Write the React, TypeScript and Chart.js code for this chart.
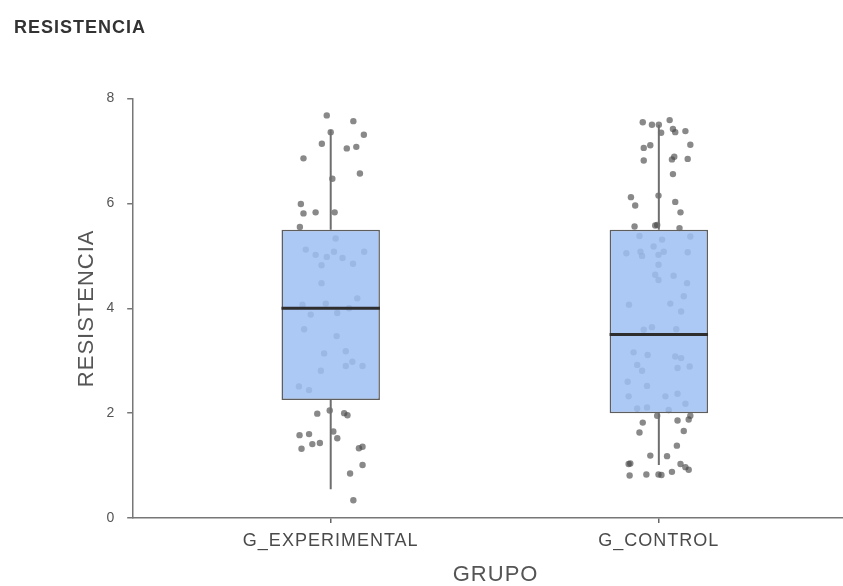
import React, { useEffect, useRef } from 'react';
import { Chart, registerables } from 'chart.js';

Chart.register(...registerables);

// Groups on the horizontal axis
const groups = ['G_EXPERIMENTAL', 'G_CONTROL'];

// Box-plot summaries per group
const whiskerLow = [0.55, 1.01];
const quartile1 = [2.25, 2.0];
const medians = [4.0, 3.5];
const quartile3 = [5.5, 5.5];
const whiskerHigh = [7.4, 7.5];

// Individual observations (value) with their horizontal jitter
const expValues = [
  7.68, 7.57, 7.36, 7.31, 7.14, 7.05, 7.08, 6.86, 6.47, 6.57,
  5.99, 5.81, 5.83, 5.83, 5.55, 5.33, 5.12, 5.02, 4.98, 5.08,
  4.96, 4.82, 4.85, 5.08, 4.48, 4.19, 4.07, 4.09, 3.88, 3.91,
  4.0, 3.6, 3.47, 3.14, 3.18, 2.81, 2.9, 2.98, 2.9, 2.51,
  2.44, 1.99, 2.05, 2.0, 1.96, 1.58, 1.6, 1.65, 1.52, 1.41,
  1.43, 1.32, 1.33, 1.36, 1.01, 0.85, 0.34,
];
const expJitter = [
  -0.012, 0.069, 0.0, 0.101, -0.027, 0.049, 0.078, -0.083, 0.005, 0.089,
  -0.091, -0.083, -0.046, 0.012, -0.094, 0.015, -0.076, -0.046, -0.012, 0.01,
  0.036, -0.028, 0.068, 0.102, -0.028, 0.081, -0.086, -0.015, -0.061, 0.02,
  0.056, -0.081, 0.018, -0.02, 0.046, -0.03, 0.046, 0.066, 0.097, -0.097,
  -0.066, -0.041, -0.003, 0.041, 0.051, -0.095, -0.066, 0.008, 0.02, -0.056,
  -0.033, -0.089, 0.086, 0.097, 0.097, 0.059, 0.069,
];

const ctrlValues = [
  7.55, 7.5, 7.5, 7.59, 7.42, 7.36, 7.35, 7.38, 7.06, 7.11,
  7.12, 6.82, 6.84, 6.89, 6.85, 6.56, 6.12, 5.96, 6.15, 6.03,
  5.83, 5.56, 5.58, 5.59, 5.53, 5.38, 5.31, 5.37, 5.18, 5.05,
  5.08, 5.0, 5.02, 5.08, 5.07, 4.83, 4.64, 4.54, 4.62, 4.48,
  4.23, 4.07, 4.09, 3.94, 3.59, 3.64, 3.6, 3.16, 3.11, 2.92,
  2.81, 3.08, 3.05, 2.86, 2.89, 2.6, 2.52, 2.32, 2.32, 2.37,
  2.09, 2.11, 2.06, 2.18, 1.95, 1.82, 1.86, 1.88, 1.95, 1.63,
  1.66, 1.38, 1.19, 1.18, 1.03, 1.04, 1.03, 0.97, 0.92, 0.81,
  0.83, 0.83, 0.82, 0.88,
];
const ctrlJitter = [
  -0.049, -0.021, 0.0, 0.033, 0.043, 0.05, 0.007, 0.081, -0.046, -0.026,
  0.096, -0.046, 0.04, 0.047, 0.088, 0.043, -0.085, -0.072, -0.001, 0.05,
  0.066, -0.074, -0.011, -0.005, 0.063, -0.059, 0.01, 0.096, -0.016, -0.099,
  -0.056, -0.051, -0.001, 0.015, 0.088, -0.001, -0.011, -0.001, 0.045, 0.086,
  0.076, -0.091, 0.035, 0.068, -0.046, -0.021, 0.053, -0.077, -0.034, -0.066,
  -0.051, 0.05, 0.068, 0.057, 0.094, -0.095, -0.036, -0.092, 0.02, 0.057,
  -0.066, -0.036, 0.03, 0.081, -0.005, -0.049, 0.057, 0.091, 0.096, -0.059,
  0.076, 0.055, -0.026, 0.025, -0.092, -0.087, 0.066, 0.081, 0.091, -0.089,
  -0.038, -0.001, 0.008, 0.04,
];

const BOX_WIDTH_RATIO = 0.3;
const FONT = '"Liberation Sans", Arial, Helvetica, sans-serif';

// The plot runs past the right edge of the frame, which clips it
const FRAME_W = 843;
const FRAME_H = 586;
const CANVAS_W = 862;

const spacingPlugin = {
  id: 'letterSpacing',
  beforeUpdate(chart: any) {
    chart.ctx.letterSpacing = '1px';
  },
  beforeDraw(chart: any) {
    chart.ctx.letterSpacing = '1px';
  },
};

export default function App() {
  const canvasRef = useRef<HTMLCanvasElement | null>(null);

  useEffect(() => {
    const canvas = canvasRef.current;
    if (!canvas) return;

    const points = (values: number[], jitter: number[], g: number) =>
      values.map((v, i) => ({ x: g + jitter[i], y: v }));

    const whiskers: { x: number; y: number | null }[] = [];
    groups.forEach((_, g) => {
      whiskers.push({ x: g, y: whiskerLow[g] }, { x: g, y: quartile1[g] }, { x: g, y: null });
      whiskers.push({ x: g, y: quartile3[g] }, { x: g, y: whiskerHigh[g] }, { x: g, y: null });
    });

    const half = BOX_WIDTH_RATIO / 2;
    const medianLines: { x: number; y: number | null }[] = [];
    groups.forEach((_, g) => {
      medianLines.push({ x: g - half, y: medians[g] }, { x: g + half, y: medians[g] }, { x: g, y: null });
    });

    const chart = new Chart(canvas, {
      type: 'bar',
      data: {
        datasets: [
          {
            type: 'scatter',
            label: 'obs',
            data: [...points(expValues, expJitter, 0), ...points(ctrlValues, ctrlJitter, 1)],
            backgroundColor: 'rgba(70,70,70,0.64)',
            borderWidth: 0,
            pointRadius: 3.2,
            order: 3,
          } as any,
          {
            type: 'bar',
            label: 'box',
            data: groups.map((_, g) => ({ x: g, y: [quartile1[g], quartile3[g]] })),
            backgroundColor: 'rgba(158,192,245,0.86)',
            borderColor: '#5e5e5e',
            borderWidth: 1.5,
            borderSkipped: false,
            barPercentage: BOX_WIDTH_RATIO,
            categoryPercentage: 1,
            order: 2,
          } as any,
          {
            type: 'line',
            label: 'whiskers',
            data: whiskers,
            borderColor: '#6e6e6e',
            borderWidth: 2,
            pointRadius: 0,
            spanGaps: false,
            order: 1,
          } as any,
          {
            type: 'line',
            label: 'median',
            data: medianLines,
            borderColor: '#2e2e2e',
            borderWidth: 3,
            pointRadius: 0,
            spanGaps: false,
            order: 0,
          } as any,
        ],
      },
      options: {
        responsive: false,
        animation: false,
        layout: { padding: { left: 14, right: 0, top: 0, bottom: 0 } },
        plugins: {
          legend: { display: false },
          tooltip: { enabled: false },
          title: {
            display: true,
            text: 'RESISTENCIA',
            align: 'start',
            color: '#333333',
            font: { family: FONT, size: 18, weight: 'bold' },
            padding: { top: 17, bottom: 60 },
          },
        },
        scales: {
          x: {
            type: 'linear',
            offset: false,
            min: -0.602,
            max: 1.607,
            afterBuildTicks: (scale: any) => {
              scale.ticks = groups.map((_, i) => ({ value: i }));
            },
            ticks: {
              autoSkip: false,
              maxRotation: 0,
              padding: 7,
              color: '#4a4a4a',
              font: { family: FONT, size: 18 },
              callback: (v: any) => groups[v as number] ?? '',
            },
            grid: {
              display: true,
              offset: false,
              drawOnChartArea: false,
              drawTicks: true,
              tickLength: 5,
              color: '#666666',
              lineWidth: 1.5,
            },
            border: { display: true, color: '#777777', width: 1.5 },
            title: {
              display: true,
              text: 'GRUPO',
              color: '#555555',
              font: { family: FONT, size: 22 },
              padding: { top: 3, bottom: -2 },
            },
          },
          y: {
            type: 'linear',
            min: 0,
            max: 8,
            ticks: {
              stepSize: 2,
              padding: 12,
              color: '#555555',
              font: { family: FONT, size: 14 },
            },
            grid: {
              display: true,
              drawOnChartArea: false,
              drawTicks: true,
              tickLength: 6,
              color: '#777777',
              lineWidth: 1.5,
            },
            border: { display: true, color: '#777777', width: 1.5 },
            title: {
              display: true,
              text: 'RESISTENCIA',
              color: '#555555',
              font: { family: FONT, size: 22 },
              padding: { top: 60, bottom: -6 },
            },
          },
        },
      },
      plugins: [spacingPlugin],
    } as any);

    return () => chart.destroy();
  }, []);

  return (
    <div
      style={{
        position: 'absolute',
        left: 0,
        top: 0,
        width: FRAME_W,
        height: FRAME_H,
        overflow: 'hidden',
        background: '#ffffff',
      }}
    >
      <canvas
        ref={canvasRef}
        width={CANVAS_W}
        height={FRAME_H}
        style={{ display: 'block', width: CANVAS_W, height: FRAME_H }}
      />
    </div>
  );
}
